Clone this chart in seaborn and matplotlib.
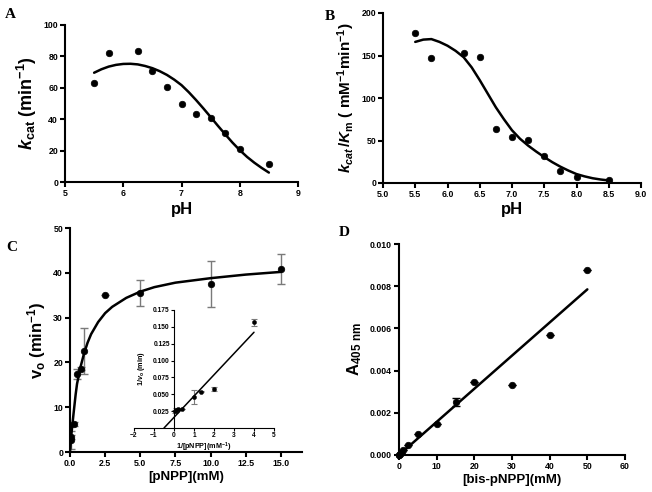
import numpy as np
import pandas as pd
import matplotlib
matplotlib.use("Agg")
import matplotlib.pyplot as plt
import seaborn as sns

# ---------------- data ----------------
# Panel A: kcat vs pH
ph_a = [5.5, 5.75, 6.25, 6.5, 6.75, 7.0, 7.25, 7.5, 7.75, 8.0, 8.5]
kcat_a = [63.2, 82.3, 83.4, 70.6, 60.6, 49.6, 43.4, 40.6, 31.3, 20.9, 11.3]
fit_ph_a = [5.5, 5.625, 5.75, 5.875, 6.0, 6.125, 6.25, 6.375, 6.5, 6.625, 6.75, 6.875,
            7.0, 7.125, 7.25, 7.375, 7.5, 7.625, 7.75, 7.875, 8.0, 8.125, 8.25, 8.375, 8.5]
fit_kcat_a = [69.6, 71.8, 73.5, 74.6, 75.2, 75.3, 74.9, 73.9, 72.5, 70.6, 68.2, 65.2,
              61.7, 57.2, 52.2, 46.9, 41.4, 35.8, 30.4, 25.1, 20.3, 16.0, 12.3, 9.0, 6.0]

# Panel B: kcat/Km vs pH
ph_b = [5.5, 5.75, 6.25, 6.5, 6.75, 7.0, 7.25, 7.5, 7.75, 8.0, 8.5]
kcatkm_b = [176.5, 147.0, 152.8, 148.1, 63.3, 53.8, 50.7, 31.4, 14.5, 7.1, 3.1]
fit_ph_b = [5.5, 5.625, 5.75, 5.875, 6.0, 6.125, 6.25, 6.375, 6.5, 6.625, 6.75, 6.875,
            7.0, 7.125, 7.25, 7.375, 7.5, 7.625, 7.75, 7.875, 8.0, 8.125, 8.25, 8.375, 8.5]
fit_kcatkm_b = [166.0, 168.7, 169.3, 166.0, 161.5, 155.5, 148.0, 136.0, 121.0, 105.0, 89.0, 75.0,
                62.0, 52.0, 44.0, 37.0, 30.5, 24.5, 19.2, 14.6, 10.5, 7.8, 5.6, 4.1, 3.0]

# Panel C: v0 vs [pNPP]
pnpp_c = [0.05, 0.1, 0.25, 0.5, 0.75, 1.0, 2.5, 5.0, 10.0, 15.0]
v0_c = [2.7, 3.4, 6.3, 17.4, 18.6, 22.5, 35.1, 35.5, 37.5, 40.9]
v0_err_c = [2.0, 0.5, 0.4, 1.2, 0.4, 5.2, 0.0, 2.9, 5.1, 3.3]
fit_pnpp_c = [0.0, 0.1, 0.25, 0.4, 0.5, 0.75, 1.0, 1.25, 1.5, 2.0, 2.5, 3.0, 4.0, 5.0, 6.0,
              7.5, 10.0, 12.5, 15.0]
fit_v0_c = [0.0, 4.0, 8.5, 12.8, 15.2, 19.0, 22.0, 24.4, 26.3, 29.0, 31.0, 32.4, 34.4, 35.8, 36.8,
            37.8, 38.8, 39.6, 40.2]

# Panel C inset: Lineweaver-Burk
inv_s = [0.067, 0.1, 0.2, 0.4, 1.0, 1.33, 2.0, 4.0]
inv_v = [0.0245, 0.0267, 0.0282, 0.0285, 0.0455, 0.0537, 0.0578, 0.157]
inv_v_err = [0.002, 0.003, 0.002, 0.0, 0.0105, 0.001, 0.003, 0.005]
lb_line_x = [-0.5, 4.0]
lb_line_y = [0.0, 0.142]

# Panel D: A405 vs [bis-pNPP]
bis_d = [0.0, 0.1, 0.25, 0.5, 1.0, 2.5, 5.0, 10.0, 15.0, 20.0, 30.0, 40.0, 50.0]
a405_d = [0.0, 0.00002, 0.00005, 0.00011, 0.00024, 0.00049, 0.00098, 0.00146, 0.0025, 0.00348, 0.0033, 0.00569, 0.00878]
a405_err_d = [0, 0, 0, 0, 0, 0, 0, 0, 0.00018, 0, 0, 0, 0]
fit_bis_d = [0.0, 50.0]
fit_a405_d = [0.0, 0.00785]

# ---------------- style ----------------
sns.set_style("ticks")
plt.rcParams['font.family'] = ['Liberation Sans', 'DejaVu Sans']
plt.rcParams['font.weight'] = 'bold'
plt.rcParams['text.color'] = 'black'
plt.rcParams['axes.labelcolor'] = 'black'
plt.rcParams['axes.edgecolor'] = 'black'
plt.rcParams['xtick.color'] = 'black'
plt.rcParams['ytick.color'] = 'black'
plt.rcParams['mathtext.fontset'] = 'custom'
plt.rcParams['mathtext.rm'] = 'Liberation Sans:bold'
plt.rcParams['mathtext.bf'] = 'Liberation Sans:bold'
plt.rcParams['mathtext.it'] = 'Liberation Sans:bold:italic'
plt.rcParams['axes.linewidth'] = 1.5
plt.rcParams['xtick.major.width'] = 1.5
plt.rcParams['ytick.major.width'] = 1.5
plt.rcParams['xtick.major.size'] = 3.5
plt.rcParams['ytick.major.size'] = 3.5
plt.rcParams['xtick.major.pad'] = 1.5
plt.rcParams['ytick.major.pad'] = 1.5

W, H = 652, 492
fig = plt.figure(figsize=(W / 100, H / 100), dpi=100)


def rect(l, r, t, b):
    return [l / W, 1 - b / H, (r - l) / W, (b - t) / H]


MS = 22
LW = 1.8
TICK_FS = 6.3


def style_ax(ax):
    sns.despine(ax=ax)
    for lab in ax.get_xticklabels() + ax.get_yticklabels():
        lab.set_fontweight('bold')
    ax.tick_params(labelsize=TICK_FS, colors='black')


# ---- Panel A ----
axA = fig.add_axes(rect(65, 298, 25, 182))
sns.lineplot(x=fit_ph_a, y=fit_kcat_a, ax=axA, color='black', lw=LW, sort=False, estimator=None)
sns.scatterplot(x=ph_a, y=kcat_a, ax=axA, color='black', s=MS, edgecolor='black', linewidth=0.5, zorder=3)
axA.set_xlim(5, 9)
axA.set_ylim(0, 100)
axA.set_xticks([5, 6, 7, 8, 9])
axA.set_yticks([0, 20, 40, 60, 80, 100])
axA.set_xlabel('pH', fontsize=12, fontweight='bold', labelpad=3)
axA.set_ylabel(r'$k_{\mathrm{cat}}$ (min$^{\mathrm{-1}}$)', fontsize=13, fontweight='bold', labelpad=3)
style_ax(axA)

# ---- Panel B ----
axB = fig.add_axes(rect(383, 641, 13, 183))
sns.lineplot(x=fit_ph_b, y=fit_kcatkm_b, ax=axB, color='black', lw=LW, sort=False, estimator=None)
sns.scatterplot(x=ph_b, y=kcatkm_b, ax=axB, color='black', s=MS, edgecolor='black', linewidth=0.5, zorder=3)
axB.set_xlim(5, 9)
axB.set_ylim(0, 200)
axB.set_xticks([5.0, 5.5, 6.0, 6.5, 7.0, 7.5, 8.0, 8.5, 9.0])
axB.set_xticklabels([f'{v:.1f}' for v in [5.0, 5.5, 6.0, 6.5, 7.0, 7.5, 8.0, 8.5, 9.0]])
axB.set_yticks([0, 50, 100, 150, 200])
axB.set_xlabel('pH', fontsize=12, fontweight='bold', labelpad=2)
axB.set_ylabel(r'$k_{cat}\,/K_{\mathrm{m}}$ ( mM$^{\mathrm{-1}}$min$^{\mathrm{-1}}$)', fontsize=11, fontweight='bold', labelpad=3)
style_ax(axB)

# ---- Panel C ----
axC = fig.add_axes(rect(70, 302, 228, 452))
axC.errorbar(pnpp_c, v0_c, yerr=v0_err_c, fmt='none', ecolor='#7a7a7a', elinewidth=1.0, capsize=3, capthick=1.0, zorder=2)
sns.lineplot(x=fit_pnpp_c, y=fit_v0_c, ax=axC, color='black', lw=LW, sort=False, estimator=None, zorder=3)
sns.scatterplot(x=pnpp_c, y=v0_c, ax=axC, color='black', s=MS, edgecolor='black', linewidth=0.5, zorder=4)
axC.set_xlim(0, 16.5)
axC.set_ylim(0, 50)
axC.set_xticks([0, 2.5, 5, 7.5, 10, 12.5, 15])
axC.set_xticklabels(['0.0', '2.5', '5.0', '7.5', '10.0', '12.5', '15.0'])
axC.set_yticks([0, 10, 20, 30, 40, 50])
axC.set_xlabel('[pNPP](mM)', fontsize=9.5, fontweight='bold', labelpad=2)
axC.set_ylabel(r'v$_{\mathrm{o}}$ (min$^{\mathrm{-1}}$)', fontsize=12, fontweight='bold', labelpad=4)
style_ax(axC)

# ---- Inset ----
axI = fig.add_axes(rect(134, 274, 310, 428))
axI.errorbar(inv_s, inv_v, yerr=inv_v_err, fmt='none', ecolor='#7a7a7a', elinewidth=0.8, capsize=2, capthick=0.8, zorder=2)
sns.lineplot(x=lb_line_x, y=lb_line_y, ax=axI, color='black', lw=1.1, sort=False, estimator=None, zorder=3)
sns.scatterplot(x=inv_s, y=inv_v, ax=axI, color='black', s=9, edgecolor='black', linewidth=0.3, zorder=4)
axI.set_xlim(-2, 5)
axI.set_ylim(0, 0.175)
axI.set_xticks([-2, -1, 0, 1, 2, 3, 4, 5])
axI.set_yticks([0.025, 0.05, 0.075, 0.1, 0.125, 0.15, 0.175])
axI.set_yticklabels([f'{v:.3f}' for v in [0.025, 0.05, 0.075, 0.1, 0.125, 0.15, 0.175]])
sns.despine(ax=axI)
axI.spines['left'].set_position(('data', 0))
axI.patch.set_alpha(0)
for sp in ['left', 'bottom']:
    axI.spines[sp].set_linewidth(0.8)
axI.tick_params(labelsize=4.8, width=0.8, length=2, pad=1, colors='black')
for lab in axI.get_xticklabels() + axI.get_yticklabels():
    lab.set_fontweight('bold')
axI.set_xlabel(r'1/[pNPP](mM$^{\mathrm{-1}}$)', fontsize=5.2, fontweight='bold', labelpad=1)
axI.set_ylabel(r'1/$v_{\mathrm{o}}$ (min)', fontsize=5.2, fontweight='bold', labelpad=1)
axI.yaxis.set_label_coords(0.09, 0.5)

# ---- Panel D ----
axD = fig.add_axes(rect(399, 625, 244, 455))
axD.errorbar(bis_d, a405_d, yerr=a405_err_d, fmt='none', ecolor='black', elinewidth=1.0, capsize=3, capthick=1.0, zorder=2)
sns.lineplot(x=fit_bis_d, y=fit_a405_d, ax=axD, color='black', lw=LW, sort=False, estimator=None, zorder=3)
sns.scatterplot(x=bis_d, y=a405_d, ax=axD, color='black', s=MS, edgecolor='black', linewidth=0.5, zorder=4, clip_on=False)
axD.set_xlim(0, 60)
axD.set_ylim(0, 0.010)
axD.set_xticks([0, 10, 20, 30, 40, 50, 60])
axD.set_yticks([0, 0.002, 0.004, 0.006, 0.008, 0.010])
axD.set_yticklabels([f'{v:.3f}' for v in [0, 0.002, 0.004, 0.006, 0.008, 0.010]])
axD.set_xlabel('[bis-pNPP](mM)', fontsize=9.5, fontweight='bold', labelpad=2)
axD.set_ylabel(r'A$_{\mathrm{405\ nm}}$', fontsize=12, fontweight='bold', labelpad=4)
style_ax(axD)

# ---- panel letters ----
for letter, (px, py) in {'A': (10, 15), 'B': (330, 17), 'C': (12, 248), 'D': (344, 232)}.items():
    fig.text(px / W, 1 - py / H, letter, fontsize=11, fontweight='bold',
             family=['Liberation Serif', 'DejaVu Serif'], ha='center', va='center')

fig.savefig('out.png', dpi=100)
